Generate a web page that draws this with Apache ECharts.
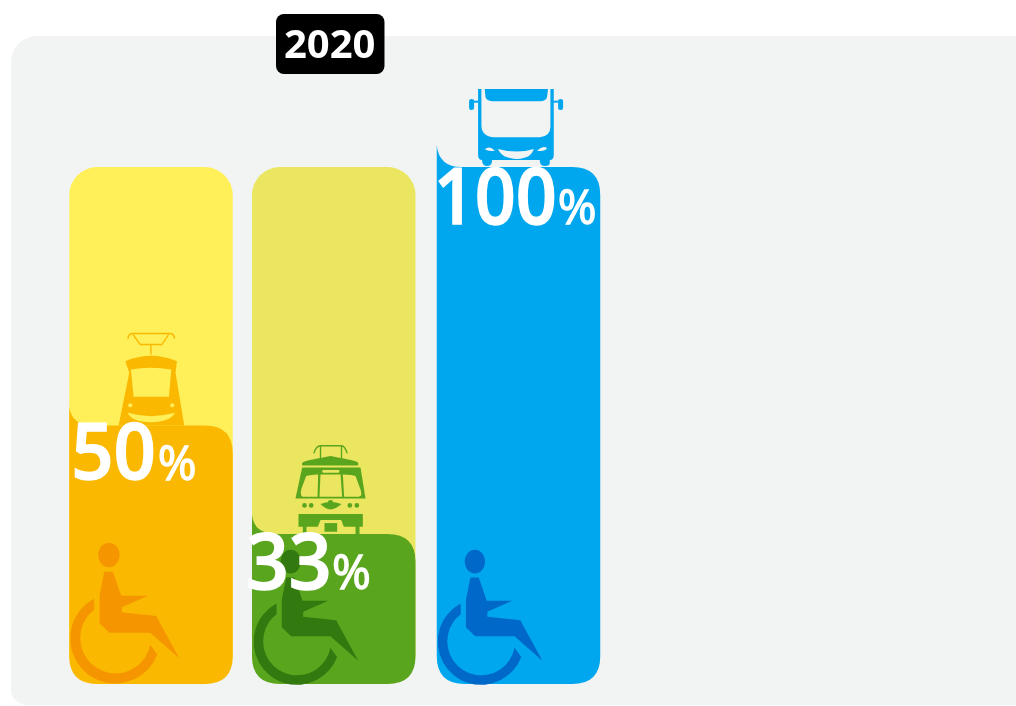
<!DOCTYPE html>
<html><head><meta charset="utf-8">
<style>html,body{margin:0;padding:0;background:#fff}#c{width:1016px;height:706px}</style>
<script src="https://cdn.jsdelivr.net/npm/echarts@6/dist/echarts.min.js"></script></head>
<body><div id="c"></div>
<script>
const categories = ['Tram', 'Light rail', 'Bus'];
const barValues = [50, 29, 100];
const labelValues = ['50', '33', '100'];
const backValues = [100, 100, null];
const yearLabel = '2020';

const FONT = '"Open Sans"';
const BAR_W = 163.5;
const PANEL = '#f2f4f4';
const styles = [
  {bar:'#fbb800', back:'#fff05a', chair:'#f59500'},
  {bar:'#5aa51e', back:'#eae65f', chair:'#327a10'},
  {bar:'#00a7ee', back:PANEL, chair:'#0068c8'}
];
const nudge = [0,-1,0];
const notch = [19,19,22];
const chairPlace = [{dx:-9,dy:-364,s:1/3},{dx:-8,dy:-348,s:.32},{dx:-8.6,dy:-348,s:.32}];
const labelPlace = [{d:2,p:88.5,y:54,sx:.95},{d:-6,p:80,y:55,sx:.96},{d:-3,p:121,y:57,sx:.92}];

const chairBody = 'M132 755L158 755L183 827L263 827L185 862L185 877L288 888L357 1015L270 938L147 938L118 910L118 825Z';
const chairWheel = 'M101.5 836A135 135 0 1 0 291 1003.5L270 974A106 106 0 1 1 102 869.6Z';
const chairHead = 'M114 705A32 37 0 1 1 178 705A32 37 0 1 1 114 705Z';

const circle = (x,y,r)=>`M${x-r} ${y}A${r} ${r} 0 1 1 ${x+r} ${y}A${r} ${r} 0 1 1 ${x-r} ${y}Z`;
const art = [
 { ox:-9, oy:-106,
   fill:['M195 125Q272 92 350 125L346 160L372 318L175 318L207 160Z'],
   holes:[
    'M212 150Q272 140 333 150L326 232L220 232Z',
    'M202 280Q272 300 344 280Q330 308 272 308Q214 308 202 280Z',
    circle(210,257,6), circle(336,257,6)
   ],
   lines:['M272 105L272 75M272 75L240 75L218 45M272 75L305 75L325 45M203 58Q204 42 218 42L328 42Q342 42 343 58']
 },
 { ox:-6.5, oy:-104,
   fill:[
    'M170 98Q175 92 255 78Q335 92 338 98L338 106L170 106Z',
    'M170 112L345 112L360 205L150 205Z',
    circle(177,226,7),circle(197,226,7),circle(313,226,7),circle(334,226,7),
    'M225 222Q255 210 288 222Q270 238 255 238Q240 238 225 222Z',circle(255,218,8),
    'M159 252L352 252L352 290L342 290L342 312L330 312L330 290L295 290L287 270L225 270L217 290L183 290L183 312L172 312L172 290L159 290Z',
    'M237 279L275 279L275 305L237 305Z'
   ],
   holes:[
    'M182 138Q195 133 218 133L216 200L172 200Q162 198 168 175Z',
    'M225 133L285 133L290 200L222 200Z',
    'M292 133Q320 133 330 138L345 178Q352 198 340 200L296 200Z',
    'M232 120L280 120Q284 124 280 128L232 128Q228 124 232 120Z'
   ],
   lines:['M205 70Q212 47 225 47L288 47Q298 47 305 70M225 47L225 85M288 47L288 85']
 },
 { ox:-7, oy:-87,
   fill:[
    'M145 27L372 27L372 225Q372 240 360 240L360 250Q360 258 345 258Q330 258 330 240L187 240Q187 258 172 258Q157 258 157 240Q145 240 145 225Z',
    'M118 64Q118 57 125 57Q133 57 133 64L133 84Q133 90 125 90Q118 90 118 84Z',
    'M385 64Q385 57 392 57Q400 57 400 64L400 84Q400 90 392 90Q385 90 385 84Z',
    'M130 62L148 62L148 68L130 68Z','M370 62L388 62L388 68L370 68Z'
   ],
   holes:[
    'M155 27L362 27L362 140Q362 168 330 172L190 172Q155 168 155 135Z',
    'M165 208Q180 196 195 212Q178 216 165 208Z',
    'M322 212Q338 196 352 204Q345 216 322 212Z',
    'M205 207Q262 222 312 207Q305 235 262 237Q215 235 205 207Z'
   ],
   over:['M165 27L355 27L352 50Q350 63 330 64L190 64Q170 63 167 50Z'],
   lines:[]
 }
];

function barPath(l,t,w,h,n){
  const r=28,b=t+h,R=l+w;
  return `M${l} ${t-n}Q${l+2} ${t} ${l+25} ${t}L${R-r} ${t}Q${R} ${t} ${R} ${t+r}L${R} ${b-r}Q${R} ${b} ${R-r} ${b}L${l+r} ${b}Q${l} ${b} ${l} ${b-r}Z`;
}
function renderBack(params, api){
  const i = params.dataIndex, v = api.value(1);
  if (!(v > 0)) return null;
  const top = api.coord([i, v]), base = api.coord([i, 0]);
  const l = top[0]-BAR_W/2+nudge[i];
  return {type:'rect',shape:{x:l,y:top[1],width:BAR_W,height:base[1]-top[1],r:28},style:{fill:styles[i].back}};
}
const midOffset = size => size*0.286;
function renderItem(params, api){
  const i = params.dataIndex;
  const top = api.coord([i, api.value(1)]);
  const base = api.coord([i, 0]);
  const l = top[0]-BAR_W/2+nudge[i], t = top[1], st = styles[i], a = art[i];
  const p = (d,fill)=>({type:'path',shape:{pathData:d},style:{fill}});
  const artGroup = [];
  a.fill.forEach(d=>artGroup.push(p(d,st.bar)));
  a.holes.forEach(d=>artGroup.push(p(d,st.back)));
  (a.over||[]).forEach(d=>artGroup.push(p(d,st.bar)));
  a.lines.forEach(d=>artGroup.push({type:'path',shape:{pathData:d},style:{fill:null,stroke:st.bar,lineWidth:4}}));
  const cp = chairPlace[i], lp = labelPlace[i];
  return {type:'group',children:[
    {type:'group',x:l+a.ox,y:t+a.oy,scaleX:1/3,scaleY:1/3,children:artGroup},
    {type:'path',shape:{pathData:barPath(l,t,BAR_W,base[1]-t,notch[i])},style:{fill:st.bar}},
    {type:'group',x:l+cp.dx,y:base[1]+cp.dy,scaleX:cp.s,scaleY:cp.s,children:[
      p(chairWheel,st.chair),p(chairBody,st.chair),p(chairHead,st.chair)]},
    {type:'text',x:l+lp.d,y:t+lp.y-midOffset(78),scaleX:lp.sx,style:{text:labelValues[i],fill:'#fff',stroke:'#fff',lineWidth:1.4,font:`600 78px ${FONT}`,verticalAlign:'middle',align:'left'}},
    {type:'text',x:l+lp.p,y:t+lp.y-midOffset(46),style:{text:'%',fill:'#fff',stroke:'#fff',lineWidth:1.3,font:`500 47px ${FONT}`,verticalAlign:'middle',align:'left'}}
  ]};
}
const chart = echarts.init(document.getElementById('c'),null,{renderer:'canvas'});
chart.setOption({
  animation:false,
  backgroundColor:'#fff',
  title:{text:yearLabel,left:276,top:14,padding:[12,9,6,8],backgroundColor:'#000',borderRadius:8,
    textStyle:{color:'#fff',fontFamily:FONT,fontWeight:700,fontSize:40,lineHeight:42}},
  graphic:[{type:'rect',z:-10,silent:true,shape:{x:11,y:36,width:1100,height:669,r:[26,0,0,16]},style:{fill:PANEL}}],
  grid:{left:59.125,width:551.25,top:167,height:517},
  xAxis:{type:'category',data:categories,show:false},
  yAxis:{type:'value',min:0,max:100,show:false},
  series:[
    {type:'custom',z:1,renderItem:renderBack,clip:false,encode:{x:0,y:1},
     data:backValues.map((v,i)=>[i,v])},
    {type:'custom',z:2,renderItem,clip:false,encode:{x:0,y:1},
     data:barValues.map((v,i)=>[i,v])}
  ]
});
</script></body></html>
